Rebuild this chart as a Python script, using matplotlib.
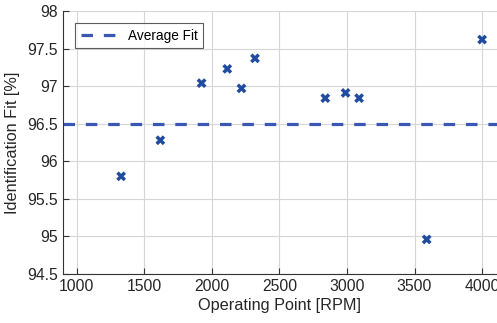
import numpy as np
import matplotlib
matplotlib.use("Agg")
import matplotlib.pyplot as plt

plt.rcParams['font.family'] = ['Liberation Sans', 'DejaVu Sans']

# operating points and identification fit values
rpm = [1330, 1620, 1925, 2115, 2220, 2320, 2840, 2990, 3090, 3590, 4000]
fit = [95.80, 96.28, 97.04, 97.23, 96.97, 97.37, 96.84, 96.91, 96.84, 94.96, 97.62]
avg_fit = 96.5

xticks = [1000, 1500, 2000, 2500, 3000, 3500, 4000]
yticks = [94.5, 95, 95.5, 96, 96.5, 97, 97.5, 98]

fig = plt.figure(figsize=(4.97, 3.23), dpi=100)
ax = fig.add_axes([63/497, 49/323, 434/497, 263/323])

ax.axhline(avg_fit, color='#3b57b5', lw=2.3, ls=(0, (3.6, 3.4)), label='Average Fit', zorder=2)
ax.scatter(rpm, fit, marker='X', s=50, color='#1f4c9e', edgecolors='none', zorder=3)

ax.set_xlim(900, 4110)
ax.set_ylim(94.5, 98)
ax.set_xticks(xticks)
ax.set_yticks(yticks)
ax.set_yticklabels(['94.5', '95', '95.5', '96', '96.5', '97', '97.5', '98'])
ax.grid(True, color='#d6d6d6', lw=0.8)
ax.set_axisbelow(True)
for side in ['top', 'right']:
	ax.spines[side].set_visible(False)
for side in ['left', 'bottom']:
	ax.spines[side].set_color('#333333')
	ax.spines[side].set_linewidth(0.8)
ax.tick_params(direction='in', length=4, colors='#333333', labelsize=11.3, labelcolor='#262626')

ax.set_xlabel('Operating Point [RPM]', fontsize=11.7, color='#262626', labelpad=3)
ax.set_ylabel('Identification Fit [%]', fontsize=11.7, color='#262626', labelpad=5)

leg = ax.legend(loc='upper left', bbox_to_anchor=(0.028, 0.954), borderaxespad=0, fontsize=9.8,
	frameon=True, fancybox=False, edgecolor='#333333', handlelength=2.6, handletextpad=0.9,
	borderpad=0.4)
leg.get_frame().set_linewidth(0.8)

fig.savefig('out.png', dpi=100)
